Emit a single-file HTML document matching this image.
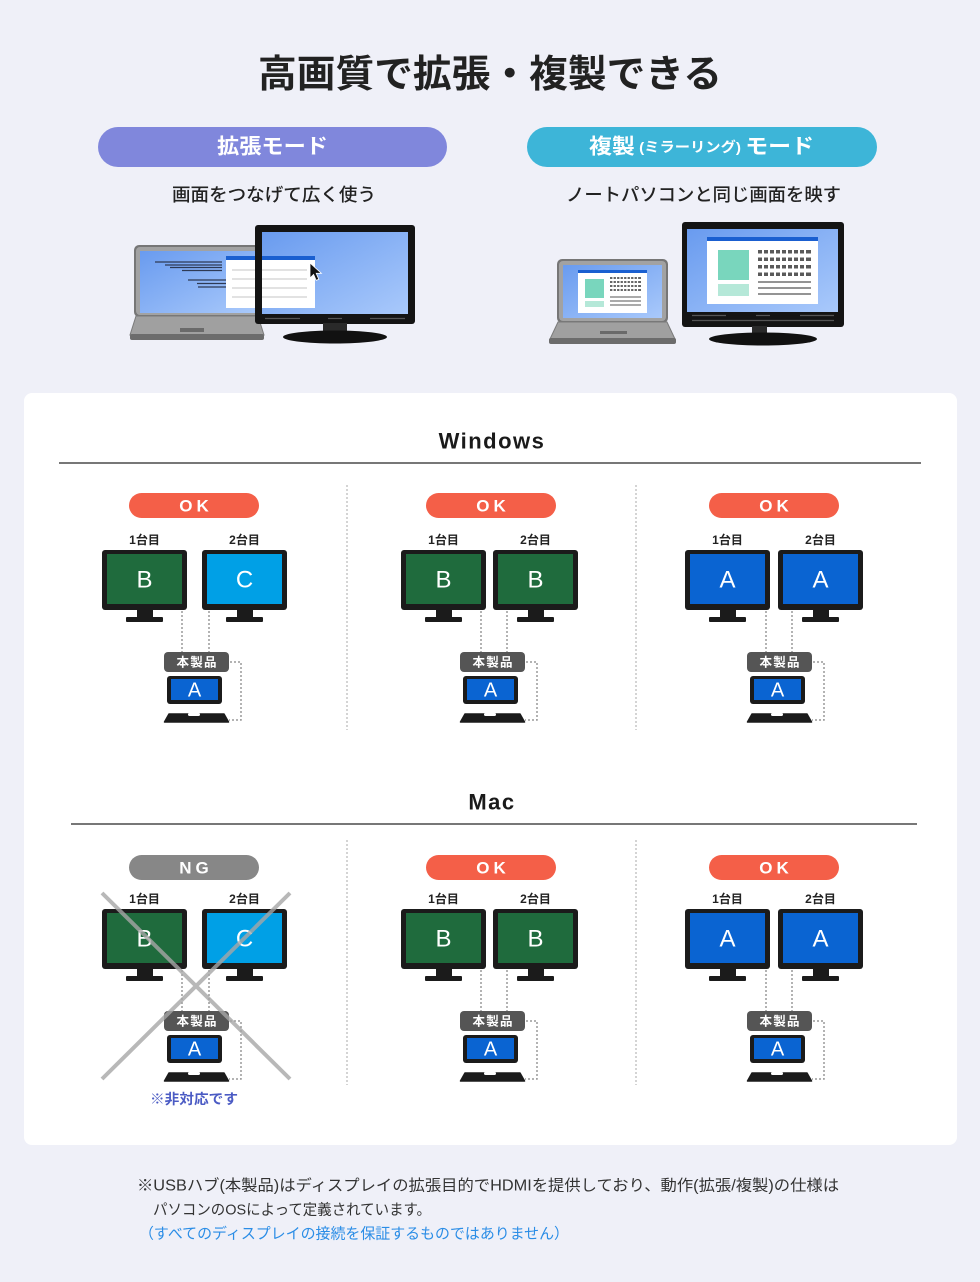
<!DOCTYPE html>
<html><head><meta charset="utf-8">
<style>
html,body{margin:0;padding:0;background:#eff0f8;}
body{width:980px;height:1282px;overflow:hidden;}
svg{display:block;}
text{font-family:"Liberation Sans","Noto Sans CJK JP",sans-serif;dominant-baseline:central;}
.pill{font-size:17px;font-weight:700;fill:#fff;text-anchor:middle;letter-spacing:4px;}
.lbl{font-size:12px;font-weight:700;fill:#222;text-anchor:middle;}
.ml{font-size:24px;fill:#fff;text-anchor:middle;}
.la{font-size:20px;fill:#fff;text-anchor:middle;}
.hub{font-size:12.5px;font-weight:700;fill:#fff;text-anchor:middle;}
.dot{fill:none;stroke:#9a9a9a;stroke-width:1.5;stroke-dasharray:2 2;}
.div{fill:none;stroke:#a8a8a8;stroke-width:1;stroke-dasharray:2 2;}
</style></head>
<body>
<svg width="980" height="1282" viewBox="0 0 980 1282" xmlns="http://www.w3.org/2000/svg">
<defs>
<linearGradient id="scr" x1="0" y1="0" x2="1" y2="1">
<stop offset="0" stop-color="#699bef"/><stop offset="1" stop-color="#a9c9fb"/>
</linearGradient>
</defs>

<!-- Title -->
<text x="258" y="75" textLength="464" lengthAdjust="spacingAndGlyphs" style="font-size:38px;font-weight:700;fill:#222;">高画質で拡張・複製できる</text>

<!-- Mode pills -->
<rect x="98" y="127" width="349" height="40" rx="20" fill="#8087dc"/>
<text x="217" y="147" textLength="111" lengthAdjust="spacingAndGlyphs" style="font-size:21px;font-weight:700;fill:#fff;">拡張モード</text>
<rect x="527" y="127" width="350" height="40" rx="20" fill="#3db5d8"/>
<text x="589" y="147" textLength="225" lengthAdjust="spacingAndGlyphs" style="font-size:21px;font-weight:700;fill:#fff;">複製<tspan style="font-size:14px;"> (ミラーリング) </tspan>モード</text>

<text x="172" y="195" textLength="204" lengthAdjust="spacingAndGlyphs" style="font-size:18px;font-weight:500;fill:#222;">画面をつなげて広く使う</text>
<text x="566" y="195" textLength="275" lengthAdjust="spacingAndGlyphs" style="font-size:18px;font-weight:500;fill:#222;">ノートパソコンと同じ画面を映す</text>

<!-- Left illustration -->
<rect x="134" y="245" width="126" height="72" rx="5" fill="#767676"/>
<rect x="136" y="247" width="122" height="68" rx="4" fill="#a2a2a2"/>
<rect x="140" y="251" width="116" height="62" fill="url(#scr)"/>
<g stroke="#2e3a55" stroke-width="1.3">
<line x1="155" y1="262" x2="222" y2="262"/>
<line x1="165" y1="265" x2="222" y2="265"/>
<line x1="170" y1="267.5" x2="222" y2="267.5"/>
<line x1="182" y1="270.5" x2="222" y2="270.5"/>
<line x1="188" y1="280" x2="226" y2="280"/>
<line x1="197" y1="283.5" x2="232" y2="283.5"/>
<line x1="198" y1="287" x2="232" y2="287"/>
</g>
<rect x="226" y="256" width="31" height="52" fill="#fff"/>
<rect x="226" y="256" width="31" height="4" fill="#1a5fd0"/>
<g stroke="#c4c4c4" stroke-width="1">
<line x1="232" y1="270" x2="257" y2="270"/><line x1="232" y1="279" x2="257" y2="279"/>
<line x1="232" y1="288" x2="257" y2="288"/><line x1="232" y1="297" x2="257" y2="297"/>
</g>
<polygon points="136,316 258,316 264,335 130,335" fill="#a0a0a0" stroke="#7a7a7a" stroke-width="1"/>
<rect x="130" y="334" width="134" height="6" rx="2" fill="#6c6c6c"/>
<rect x="180" y="328" width="24" height="4" fill="#6a6a6a"/>
<rect x="255" y="225" width="160" height="99" rx="3" fill="#141414"/>
<rect x="262" y="232" width="146" height="82" fill="url(#scr)"/>
<rect x="262" y="256" width="53" height="52" fill="#fff"/>
<rect x="262" y="256" width="53" height="4" fill="#1a5fd0"/>
<g stroke="#c4c4c4" stroke-width="1">
<line x1="262" y1="270" x2="307" y2="270"/><line x1="262" y1="279" x2="307" y2="279"/>
<line x1="262" y1="288" x2="307" y2="288"/><line x1="262" y1="297" x2="307" y2="297"/>
</g>
<path d="M310,263 l0,15 l3.6,-3.6 l2.6,6 l2.6,-1.1 l-2.6,-6 l5.2,0 z" fill="#111" stroke="#fff" stroke-width="0.8"/>
<g stroke="#555" stroke-width="1.2">
<line x1="265" y1="318.5" x2="300" y2="318.5"/><line x1="328" y1="318.5" x2="342" y2="318.5"/><line x1="370" y1="318.5" x2="405" y2="318.5"/>
</g>
<rect x="323" y="323" width="24" height="12" fill="#2a2a2a"/>
<ellipse cx="335" cy="337" rx="52" ry="6.5" fill="#111"/>

<!-- Right illustration -->
<rect x="557" y="259" width="111" height="64" rx="5" fill="#767676"/>
<rect x="559" y="261" width="107" height="60" rx="4" fill="#a2a2a2"/>
<rect x="563" y="265" width="99" height="53" fill="url(#scr)"/>
<rect x="578" y="270" width="69" height="43" fill="#fff"/>
<rect x="578" y="270" width="69" height="3" fill="#1a5fd0"/>
<rect x="585" y="279" width="19" height="19" fill="#79d6bd"/>
<rect x="585" y="301" width="19" height="6" fill="#b5e8d8"/>
<g fill="#666">
<rect x="610" y="277" width="31" height="2" /><rect x="610" y="281" width="31" height="2"/>
<rect x="610" y="285" width="31" height="2"/><rect x="610" y="289" width="31" height="2"/>
</g>
<g stroke="#fff" stroke-width="1.2">
<line x1="613" y1="276" x2="613" y2="292"/><line x1="616.5" y1="276" x2="616.5" y2="292"/><line x1="620" y1="276" x2="620" y2="292"/><line x1="623.5" y1="276" x2="623.5" y2="292"/><line x1="627" y1="276" x2="627" y2="292"/><line x1="630.5" y1="276" x2="630.5" y2="292"/><line x1="634" y1="276" x2="634" y2="292"/><line x1="637.5" y1="276" x2="637.5" y2="292"/>
</g>
<g stroke="#555" stroke-width="1">
<line x1="610" y1="297" x2="641" y2="297"/><line x1="610" y1="301" x2="641" y2="301"/><line x1="610" y1="305" x2="641" y2="305"/>
</g>
<polygon points="558,322 667,322 675,339 550,339" fill="#a0a0a0" stroke="#7a7a7a" stroke-width="1"/>
<rect x="549" y="338" width="127" height="6" rx="2" fill="#6c6c6c"/>
<rect x="600" y="331" width="27" height="3" fill="#6a6a6a"/>
<rect x="682" y="222" width="162" height="105" rx="3" fill="#141414"/>
<rect x="687" y="229" width="151" height="83" fill="url(#scr)"/>
<rect x="707" y="237" width="111" height="67" fill="#fff"/>
<rect x="707" y="237" width="111" height="4" fill="#1a5fd0"/>
<rect x="718" y="250" width="31" height="30" fill="#79d6bd"/>
<rect x="718" y="284" width="31" height="12" fill="#b5e8d8"/>
<g fill="#5a5a5a">
<rect x="758" y="250" width="53" height="3.5"/><rect x="758" y="257.5" width="53" height="3.5"/>
<rect x="758" y="265" width="53" height="3.5"/><rect x="758" y="272.5" width="53" height="3.5"/>
</g>
<g stroke="#fff" stroke-width="2">
<line x1="763" y1="249" x2="763" y2="277"/><line x1="769" y1="249" x2="769" y2="277"/><line x1="775" y1="249" x2="775" y2="277"/><line x1="781" y1="249" x2="781" y2="277"/><line x1="787" y1="249" x2="787" y2="277"/><line x1="793" y1="249" x2="793" y2="277"/><line x1="799" y1="249" x2="799" y2="277"/><line x1="805" y1="249" x2="805" y2="277"/>
</g>
<g stroke="#555" stroke-width="1.2">
<line x1="758" y1="282" x2="811" y2="282"/><line x1="758" y1="288" x2="811" y2="288"/><line x1="758" y1="294" x2="811" y2="294"/>
</g>
<g stroke="#555" stroke-width="1.2">
<line x1="692" y1="315.5" x2="726" y2="315.5"/><line x1="756" y1="315.5" x2="770" y2="315.5"/><line x1="800" y1="315.5" x2="834" y2="315.5"/>
<line x1="692" y1="320.5" x2="834" y2="320.5"/>
</g>
<rect x="752" y="326" width="15" height="10" fill="#2a2a2a"/>
<ellipse cx="763" cy="339" rx="54" ry="6.5" fill="#111"/>

<!-- Card -->
<rect x="24" y="393" width="933" height="752" rx="8" fill="#fff"/>

<!-- Windows heading -->
<text x="492" y="441" style="font-size:22px;font-weight:700;fill:#1a1a1a;text-anchor:middle;letter-spacing:1.5px;">Windows</text>
<rect x="59" y="462" width="862" height="2" fill="#777"/>
<path d="M347,485V730M636,485V730" class="div"/>

<!-- ===== Windows row ===== -->
<g>
<!-- Cell 1 -->
<rect x="129" y="493" width="130" height="25" rx="12.5" fill="#f45f48"/>
<text x="196" y="506" class="pill">OK</text>
<text x="144.5" y="540" class="lbl">1台目</text><text x="244.5" y="540" class="lbl">2台目</text>
<g transform="translate(102,550)"><rect width="85" height="60" rx="3" fill="#1b1b1b"/><rect x="5" y="4" width="75" height="50" fill="#1f6b3d"/><rect x="35" y="59" width="16" height="9" fill="#1b1b1b"/><rect x="24" y="67" width="37" height="5" rx="1" fill="#1b1b1b"/><text x="42.5" y="30" class="ml">B</text></g>
<g transform="translate(202,550)"><rect width="85" height="60" rx="3" fill="#1b1b1b"/><rect x="5" y="4" width="75" height="50" fill="#00a0e6"/><rect x="35" y="59" width="16" height="9" fill="#1b1b1b"/><rect x="24" y="67" width="37" height="5" rx="1" fill="#1b1b1b"/><text x="42.5" y="30" class="ml">C</text></g>
<path d="M182,611V652M209,611V652" class="dot"/>
<g transform="translate(164,652)"><rect width="65" height="20" rx="4" fill="#555"/><text x="32.5" y="10.5" class="hub" textLength="40">本製品</text><rect x="3" y="24" width="55" height="28" rx="3" fill="#1b1b1b"/><rect x="7" y="27" width="47" height="21" fill="#0a64d2"/><text x="30.5" y="38.5" class="la">A</text><path d="M5,62H60L64.5,70H0.5Z" fill="#1b1b1b" stroke="#1b1b1b" stroke-linejoin="round" stroke-width="1.5"/><rect x="24" y="61" width="12" height="3" rx="1.5" fill="#fff"/><path d="M66,10H77V68H65" class="dot"/></g>

<!-- Cell 2 -->
<rect x="426" y="493" width="130" height="25" rx="12.5" fill="#f45f48"/>
<text x="493" y="506" class="pill">OK</text>
<text x="443.5" y="540" class="lbl">1台目</text><text x="535.5" y="540" class="lbl">2台目</text>
<g transform="translate(401,550)"><rect width="85" height="60" rx="3" fill="#1b1b1b"/><rect x="5" y="4" width="75" height="50" fill="#1f6b3d"/><rect x="35" y="59" width="16" height="9" fill="#1b1b1b"/><rect x="24" y="67" width="37" height="5" rx="1" fill="#1b1b1b"/><text x="42.5" y="30" class="ml">B</text></g>
<g transform="translate(493,550)"><rect width="85" height="60" rx="3" fill="#1b1b1b"/><rect x="5" y="4" width="75" height="50" fill="#1f6b3d"/><rect x="35" y="59" width="16" height="9" fill="#1b1b1b"/><rect x="24" y="67" width="37" height="5" rx="1" fill="#1b1b1b"/><text x="42.5" y="30" class="ml">B</text></g>
<path d="M481,611V652M507,611V652" class="dot"/>
<g transform="translate(460,652)"><rect width="65" height="20" rx="4" fill="#555"/><text x="32.5" y="10.5" class="hub" textLength="40">本製品</text><rect x="3" y="24" width="55" height="28" rx="3" fill="#1b1b1b"/><rect x="7" y="27" width="47" height="21" fill="#0a64d2"/><text x="30.5" y="38.5" class="la">A</text><path d="M5,62H60L64.5,70H0.5Z" fill="#1b1b1b" stroke="#1b1b1b" stroke-linejoin="round" stroke-width="1.5"/><rect x="24" y="61" width="12" height="3" rx="1.5" fill="#fff"/><path d="M66,10H77V68H65" class="dot"/></g>

<!-- Cell 3 -->
<rect x="709" y="493" width="130" height="25" rx="12.5" fill="#f45f48"/>
<text x="776" y="506" class="pill">OK</text>
<text x="727.5" y="540" class="lbl">1台目</text><text x="820.5" y="540" class="lbl">2台目</text>
<g transform="translate(685,550)"><rect width="85" height="60" rx="3" fill="#1b1b1b"/><rect x="5" y="4" width="75" height="50" fill="#0a64d2"/><rect x="35" y="59" width="16" height="9" fill="#1b1b1b"/><rect x="24" y="67" width="37" height="5" rx="1" fill="#1b1b1b"/><text x="42.5" y="30" class="ml">A</text></g>
<g transform="translate(778,550)"><rect width="85" height="60" rx="3" fill="#1b1b1b"/><rect x="5" y="4" width="75" height="50" fill="#0a64d2"/><rect x="35" y="59" width="16" height="9" fill="#1b1b1b"/><rect x="24" y="67" width="37" height="5" rx="1" fill="#1b1b1b"/><text x="42.5" y="30" class="ml">A</text></g>
<path d="M766,611V652M792,611V652" class="dot"/>
<g transform="translate(747,652)"><rect width="65" height="20" rx="4" fill="#555"/><text x="32.5" y="10.5" class="hub" textLength="40">本製品</text><rect x="3" y="24" width="55" height="28" rx="3" fill="#1b1b1b"/><rect x="7" y="27" width="47" height="21" fill="#0a64d2"/><text x="30.5" y="38.5" class="la">A</text><path d="M5,62H60L64.5,70H0.5Z" fill="#1b1b1b" stroke="#1b1b1b" stroke-linejoin="round" stroke-width="1.5"/><rect x="24" y="61" width="12" height="3" rx="1.5" fill="#fff"/><path d="M66,10H77V68H65" class="dot"/></g>
</g>

<!-- Mac heading -->
<text x="492" y="802" style="font-size:22px;font-weight:700;fill:#1a1a1a;text-anchor:middle;letter-spacing:1.5px;">Mac</text>
<rect x="71" y="823" width="846" height="2" fill="#777"/>
<path d="M347,840V1085M636,840V1085" class="div"/>

<!-- ===== Mac row ===== -->
<g transform="translate(0,359)">
<!-- Cell 1 NG -->
<rect x="129" y="496" width="130" height="25" rx="12.5" fill="#878787"/>
<text x="196" y="509" class="pill">NG</text>
<text x="144.5" y="540" class="lbl">1台目</text><text x="244.5" y="540" class="lbl">2台目</text>
<g transform="translate(102,550)"><rect width="85" height="60" rx="3" fill="#1b1b1b"/><rect x="5" y="4" width="75" height="50" fill="#1f6b3d"/><rect x="35" y="59" width="16" height="9" fill="#1b1b1b"/><rect x="24" y="67" width="37" height="5" rx="1" fill="#1b1b1b"/><text x="42.5" y="30" class="ml">B</text></g>
<g transform="translate(202,550)"><rect width="85" height="60" rx="3" fill="#1b1b1b"/><rect x="5" y="4" width="75" height="50" fill="#00a0e6"/><rect x="35" y="59" width="16" height="9" fill="#1b1b1b"/><rect x="24" y="67" width="37" height="5" rx="1" fill="#1b1b1b"/><text x="42.5" y="30" class="ml">C</text></g>
<path d="M182,611V652M209,611V652" class="dot"/>
<g transform="translate(164,652)"><rect width="65" height="20" rx="4" fill="#555"/><text x="32.5" y="10.5" class="hub" textLength="40">本製品</text><rect x="3" y="24" width="55" height="28" rx="3" fill="#1b1b1b"/><rect x="7" y="27" width="47" height="21" fill="#0a64d2"/><text x="30.5" y="38.5" class="la">A</text><path d="M5,62H60L64.5,70H0.5Z" fill="#1b1b1b" stroke="#1b1b1b" stroke-linejoin="round" stroke-width="1.5"/><rect x="24" y="61" width="12" height="3" rx="1.5" fill="#fff"/><path d="M66,10H77V68H65" class="dot"/></g>
<path d="M102,534L290,720M290,534L102,720" stroke="#a6a6a6" stroke-opacity="0.8" stroke-width="4" fill="none"/>
<text x="150" y="740" textLength="88" lengthAdjust="spacingAndGlyphs" style="font-size:14px;font-weight:700;fill:#4b5bc4;">※非対応です</text>

<!-- Cell 2 -->
<rect x="426" y="496" width="130" height="25" rx="12.5" fill="#f45f48"/>
<text x="493" y="509" class="pill">OK</text>
<text x="443.5" y="540" class="lbl">1台目</text><text x="535.5" y="540" class="lbl">2台目</text>
<g transform="translate(401,550)"><rect width="85" height="60" rx="3" fill="#1b1b1b"/><rect x="5" y="4" width="75" height="50" fill="#1f6b3d"/><rect x="35" y="59" width="16" height="9" fill="#1b1b1b"/><rect x="24" y="67" width="37" height="5" rx="1" fill="#1b1b1b"/><text x="42.5" y="30" class="ml">B</text></g>
<g transform="translate(493,550)"><rect width="85" height="60" rx="3" fill="#1b1b1b"/><rect x="5" y="4" width="75" height="50" fill="#1f6b3d"/><rect x="35" y="59" width="16" height="9" fill="#1b1b1b"/><rect x="24" y="67" width="37" height="5" rx="1" fill="#1b1b1b"/><text x="42.5" y="30" class="ml">B</text></g>
<path d="M481,611V652M507,611V652" class="dot"/>
<g transform="translate(460,652)"><rect width="65" height="20" rx="4" fill="#555"/><text x="32.5" y="10.5" class="hub" textLength="40">本製品</text><rect x="3" y="24" width="55" height="28" rx="3" fill="#1b1b1b"/><rect x="7" y="27" width="47" height="21" fill="#0a64d2"/><text x="30.5" y="38.5" class="la">A</text><path d="M5,62H60L64.5,70H0.5Z" fill="#1b1b1b" stroke="#1b1b1b" stroke-linejoin="round" stroke-width="1.5"/><rect x="24" y="61" width="12" height="3" rx="1.5" fill="#fff"/><path d="M66,10H77V68H65" class="dot"/></g>

<!-- Cell 3 -->
<rect x="709" y="496" width="130" height="25" rx="12.5" fill="#f45f48"/>
<text x="776" y="509" class="pill">OK</text>
<text x="727.5" y="540" class="lbl">1台目</text><text x="820.5" y="540" class="lbl">2台目</text>
<g transform="translate(685,550)"><rect width="85" height="60" rx="3" fill="#1b1b1b"/><rect x="5" y="4" width="75" height="50" fill="#0a64d2"/><rect x="35" y="59" width="16" height="9" fill="#1b1b1b"/><rect x="24" y="67" width="37" height="5" rx="1" fill="#1b1b1b"/><text x="42.5" y="30" class="ml">A</text></g>
<g transform="translate(778,550)"><rect width="85" height="60" rx="3" fill="#1b1b1b"/><rect x="5" y="4" width="75" height="50" fill="#0a64d2"/><rect x="35" y="59" width="16" height="9" fill="#1b1b1b"/><rect x="24" y="67" width="37" height="5" rx="1" fill="#1b1b1b"/><text x="42.5" y="30" class="ml">A</text></g>
<path d="M766,611V652M792,611V652" class="dot"/>
<g transform="translate(747,652)"><rect width="65" height="20" rx="4" fill="#555"/><text x="32.5" y="10.5" class="hub" textLength="40">本製品</text><rect x="3" y="24" width="55" height="28" rx="3" fill="#1b1b1b"/><rect x="7" y="27" width="47" height="21" fill="#0a64d2"/><text x="30.5" y="38.5" class="la">A</text><path d="M5,62H60L64.5,70H0.5Z" fill="#1b1b1b" stroke="#1b1b1b" stroke-linejoin="round" stroke-width="1.5"/><rect x="24" y="61" width="12" height="3" rx="1.5" fill="#fff"/><path d="M66,10H77V68H65" class="dot"/></g>
</g>

<!-- Footer -->
<text x="137" y="1186" textLength="702" lengthAdjust="spacingAndGlyphs" style="font-size:15.5px;fill:#333;">※USBハブ(本製品)はディスプレイの拡張目的でHDMIを提供しており、動作(拡張/複製)の仕様は</text>
<text x="153" y="1210" textLength="278" lengthAdjust="spacingAndGlyphs" style="font-size:15px;fill:#333;">パソコンのOSによって定義されています。</text>
<text x="139" y="1234" textLength="430" lengthAdjust="spacingAndGlyphs" style="font-size:15px;fill:#2b8de6;">（すべてのディスプレイの接続を保証するものではありません）</text>
</svg>
</body></html>
